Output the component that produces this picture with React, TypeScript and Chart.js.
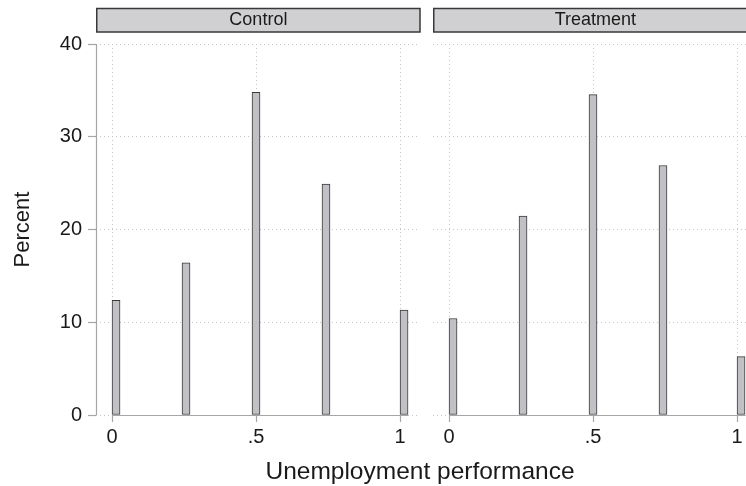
import React, { useEffect, useRef } from "react";
import { Chart, registerables } from "chart.js";

Chart.register(...registerables);

// ---- data ----
const binMids = [0.014, 0.257, 0.5, 0.743, 1.014];
const controlPct = [12.35, 16.4, 34.8, 24.9, 11.3];
const treatmentPct = [10.4, 21.45, 34.55, 26.9, 6.3];
const xTicks = [0, 0.5, 1];
const xTickLabels = ["0", ".5", "1"];
const yTicks = [0, 10, 20, 30, 40];
const panelTitles = ["Control", "Treatment"];
const binWidth = 0.028;
const yTitle = "Percent";
const xTitle = "Unemployment performance";

const FONT = "'Liberation Sans', Arial, Helvetica, sans-serif";
const TEXT = "#1a1a1a";
const GRID = "#c4c4c4";
const AXIS = "#a6a6a6";

const stripPlugin = {
  id: "strip",
  afterDraw(chart: any, _args: any, opts: any) {
    const { ctx, chartArea } = chart;
    const l = chartArea.left + 0.75;
    const r = chartArea.right;
    ctx.save();
    ctx.fillStyle = "#d0d0d2";
    ctx.strokeStyle = "#383838";
    ctx.lineWidth = 1.5;
    ctx.fillRect(l, 8.5, r - l, 23.5);
    ctx.strokeRect(l, 8.5, r - l, 23.5);
    ctx.fillStyle = TEXT;
    ctx.font = `18px ${FONT}`;
    ctx.textAlign = "center";
    ctx.textBaseline = "middle";
    ctx.fillText(opts.text, (l + r) / 2, 20.5);
    ctx.restore();
  },
};

const axisPlugin = {
  id: "axisLines",
  beforeDatasetsDraw(chart: any, _args: any, opts: any) {
    const { ctx, chartArea } = chart;
    const xs = chart.scales.x;
    const ys = chart.scales.y;
    ctx.save();
    ctx.strokeStyle = AXIS;
    ctx.lineWidth = 1.2;
    ctx.setLineDash([]);
    const y0 = Math.round(ys.getPixelForValue(0)) + 0.5;
    ctx.beginPath();
    ctx.moveTo(xs.getPixelForValue(0), y0);
    ctx.lineTo(xs.getPixelForValue(1 + binWidth), y0);
    ctx.stroke();
    if (opts.yAxis) {
      const x0 = Math.round(chartArea.left) + 0.5;
      ctx.beginPath();
      ctx.moveTo(x0, ys.getPixelForValue(0));
      ctx.lineTo(x0, ys.getPixelForValue(40));
      ctx.stroke();
    }
    ctx.restore();
  },
};

function Panel(props: { values: number[]; title: string; isLeft: boolean; left: number; width: number }) {
  const { values, title, isLeft, left, width } = props;
  const ref = useRef<HTMLCanvasElement>(null);
  useEffect(() => {
    const chart = new Chart(ref.current as HTMLCanvasElement, {
      type: "bar",
      data: {
        datasets: [
          {
            data: binMids.map((x, i) => ({ x, y: values[i] })),
            backgroundColor: "#c1c1c5",
            borderColor: "#3a3a3a",
            borderWidth: 1,
            borderSkipped: false,
            barThickness: 8,
          } as any,
        ],
      },
      options: {
        responsive: false,
        animation: false,
        events: [],
        layout: { padding: { top: 44, left: 0, right: isLeft ? 5 : 8, bottom: 0 } },
        plugins: {
          legend: { display: false },
          tooltip: { enabled: false },
          strip: { text: title },
          axisLines: { yAxis: isLeft },
        } as any,
        scales: {
          x: {
            type: "linear",
            offset: false,
            min: -0.0556,
            max: 1.0694,
            afterBuildTicks: (s: any) => {
              s.ticks = xTicks.map((v) => ({ value: v }));
            },
            afterFit: (s: any) => {
              s.height = 71;
            },
            grid: {
              offset: false,
              color: GRID,
              lineWidth: 1,
              drawTicks: true,
              tickLength: 7,
              tickColor: AXIS,
              tickWidth: 1.2,
              tickBorderDash: [],
            },
            border: { display: false, dash: [1, 3] },
            ticks: {
              padding: 3,
              color: TEXT,
              autoSkip: false,
              maxRotation: 0,
              font: { family: FONT, size: 20 },
              callback: (_v: any, i: number) => xTickLabels[i],
            },
          },
          y: {
            type: "linear",
            min: 0,
            max: 40,
            afterBuildTicks: (s: any) => {
              s.ticks = yTicks.map((v) => ({ value: v }));
            },
            afterFit: (s: any) => {
              s.width = isLeft ? 96 : 8;
            },
            grid: {
              color: GRID,
              lineWidth: 1,
              drawTicks: isLeft,
              tickLength: 8,
              tickColor: AXIS,
              tickWidth: 1.2,
              tickBorderDash: [],
            },
            border: { display: false, dash: [1, 3] },
            ticks: {
              display: isLeft,
              padding: 6,
              color: TEXT,
              font: { family: FONT, size: 20 },
            },
            title: {
              display: isLeft,
              text: yTitle,
              color: TEXT,
              font: { family: FONT, size: 22 },
              padding: { top: 10, bottom: 0 },
            },
          },
        },
      } as any,
      plugins: [stripPlugin, axisPlugin],
    });
    return () => chart.destroy();
  }, []);
  return (
    <div style={{ position: "absolute", left, top: 0, width, height: 486 }}>
      <canvas ref={ref} width={width} height={486} style={{ width, height: 486, display: "block" }} />
    </div>
  );
}

export default function App() {
  return (
    <div
      style={{
        position: "fixed",
        left: 0,
        top: 0,
        width: 746,
        height: 486,
        overflow: "hidden",
        background: "#ffffff",
      }}
    >
      <Panel values={controlPct} title={panelTitles[0]} isLeft={true} left={0} width={425} />
      <Panel values={treatmentPct} title={panelTitles[1]} isLeft={false} left={425} width={340} />
      <div
        style={{
          position: "absolute",
          left: 220,
          width: 400,
          top: 459,
          textAlign: "center",
          fontFamily: FONT,
          fontSize: 24.5,
          lineHeight: "24px",
          color: TEXT,
          whiteSpace: "nowrap",
        }}
      >
        {xTitle}
      </div>
    </div>
  );
}
